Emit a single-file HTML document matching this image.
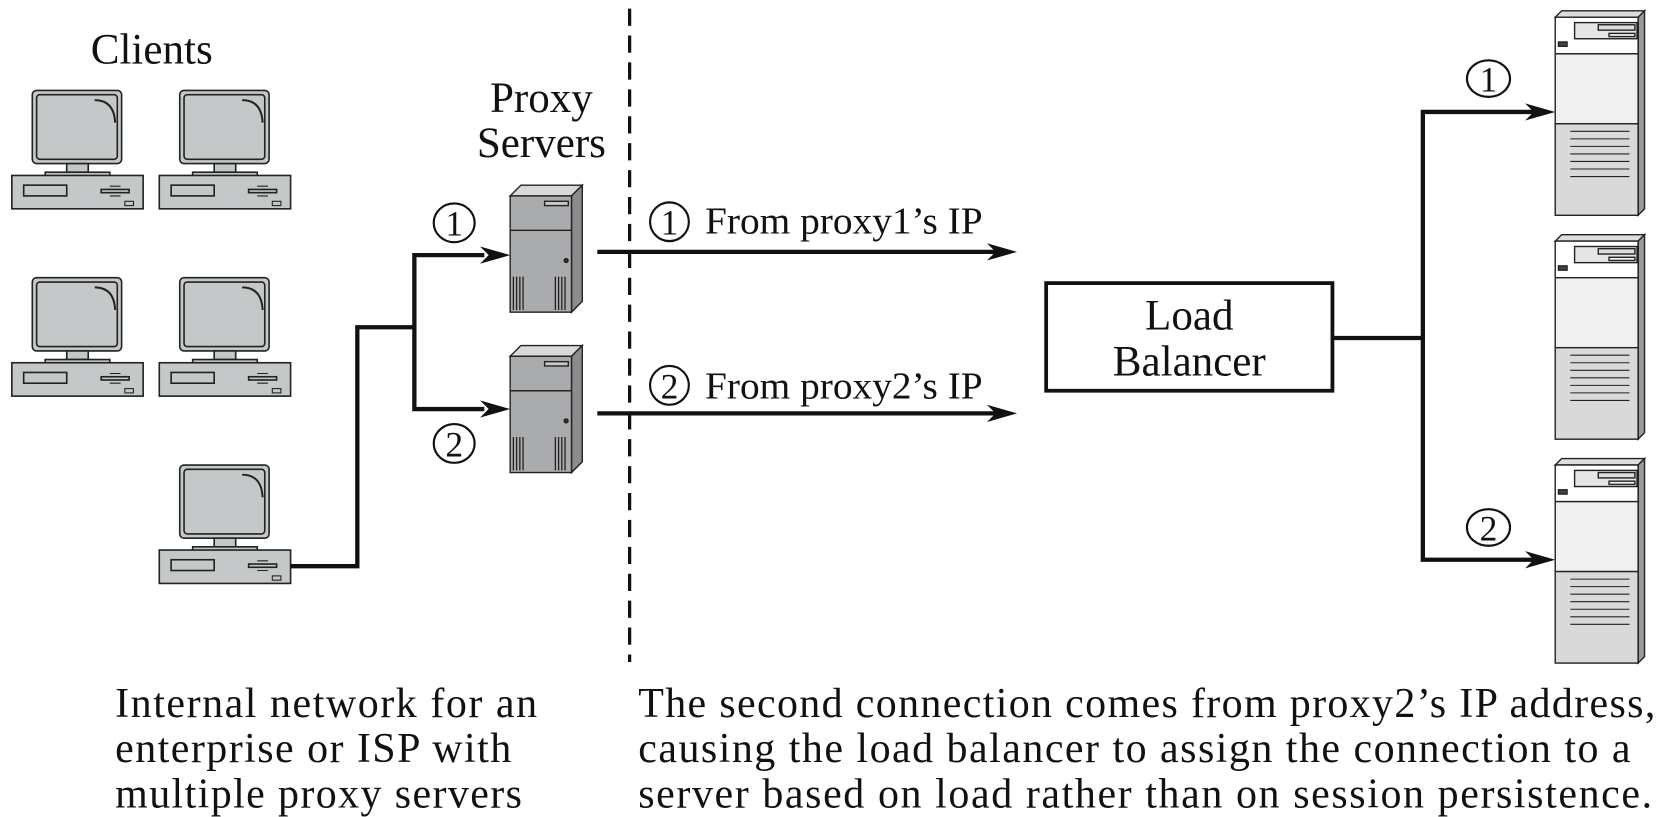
<!DOCTYPE html>
<html><head><meta charset="utf-8"><style>
html,body{margin:0;padding:0;background:#fff;width:1679px;height:817px;overflow:hidden}
svg{display:block}
text{font-family:"Liberation Serif","DejaVu Serif",serif;fill:#111}
</style></head><body>
<svg width="1679" height="817" viewBox="0 0 1560 759" preserveAspectRatio="none" xmlns="http://www.w3.org/2000/svg">
<defs>
<g id="pc" stroke="#222" stroke-width="1.5">
 <rect x="0" y="0" width="83" height="68" rx="4" fill="#c5c8c9"/>
 <rect x="4" y="4" width="75" height="60" rx="3" fill="#c5c8c9"/>
 <path d="M58 9 Q76 9 77 30" fill="none" stroke-width="1.8"/>
 <rect x="32" y="68" width="20" height="8" fill="#c5c8c9"/>
 <rect x="12" y="76" width="60" height="4" fill="#c5c8c9"/>
 <rect x="-19" y="79" width="122" height="31" fill="#c5c8c9"/>
 <rect x="-8" y="88" width="40" height="10" fill="#c5c8c9"/>
 <rect x="64" y="92" width="26" height="3" fill="#c5c8c9"/>
 <path d="M72 89 h10 M72 98 h10" stroke-width="1"/>
 <rect x="86" y="103" width="8" height="4" fill="#c5c8c9" stroke-width="1"/>
</g>
<g id="px" stroke="#222" stroke-width="1.3">
 <polygon points="0,10 10,0 67,0 57,10" fill="#d8d9da"/>
 <polygon points="57,10 67,0 67,108 57,118" fill="#8a8c8e"/>
 <rect x="0" y="10" width="57" height="108" fill="#a9abad"/>
 <line x1="0" y1="42" x2="57" y2="42"/>
 <rect x="32" y="15" width="22" height="4" fill="#c8c8c8"/>
 <circle cx="52" cy="70" r="1.8" fill="#333"/>
 <path d="M3 85v31M6 85v31M9 85v31M12 85v31M42 85v31M45 85v31M48 85v31M51 85v31" stroke-width="1.2"/>
</g>
<g id="bs" stroke="#222" stroke-width="1.3">
 <polygon points="0,6 6,0 83,0 77,6" fill="#ddd"/>
 <polygon points="77,6 83,0 83,184 77,190" fill="#999"/>
 <rect x="0" y="6" width="77" height="34" fill="#fff"/>
 <rect x="0" y="40" width="77" height="65" fill="#f0f0f0"/>
 <rect x="0" y="105" width="77" height="85" fill="#d9d9d9"/>
 <rect x="18" y="11" width="58" height="15" fill="#e5e5e5"/>
 <rect x="40" y="13" width="34" height="5" fill="#ddd"/>
 <rect x="50" y="21" width="24" height="3" fill="#eee"/>
 <rect x="3" y="29" width="8" height="4" fill="#444"/>
 <path d="M14 112h55M14 119h55M14 126h55M14 133h55M14 140h55M14 147h55M14 154h55" stroke-width="1"/>
</g>
</defs>

<text x="141" y="59" font-size="40" text-anchor="middle">Clients</text>
<use href="#pc" x="30" y="84"/>
<use href="#pc" x="167" y="84"/>
<use href="#pc" x="30" y="258"/>
<use href="#pc" x="167" y="258"/>
<use href="#pc" x="167" y="432"/>

<text x="503" y="104" font-size="40" text-anchor="middle">Proxy</text>
<text x="503" y="146" font-size="40" text-anchor="middle">Servers</text>
<use href="#px" x="474" y="172"/>
<use href="#px" x="474" y="321"/>

<g fill="none" stroke="#111" stroke-width="4">
 <polyline points="270,526 332,526 332,304 385,304"/>
 <polyline points="450,237 385,237 385,380 450,380"/>
 <line x1="555" y1="234" x2="925" y2="234"/>
 <line x1="555" y1="384" x2="925" y2="384"/>
 <polyline points="1238,314 1322,314"/>
 <polyline points="1425,104 1322,104 1322,520 1425,520"/>
</g>
<g fill="#111">
 <polygon points="474,237 446,229 454,237 446,245"/>
 <polygon points="474,380 446,372 454,380 446,388"/>
 <polygon points="945,234 917,226 925,234 917,242"/>
 <polygon points="945,384 917,376 925,384 917,392"/>
 <polygon points="1445,104 1417,96 1425,104 1417,112"/>
 <polygon points="1445,520 1417,512 1425,520 1417,528"/>
</g>
<line x1="585" y1="8" x2="585" y2="615" stroke="#111" stroke-width="3" stroke-dasharray="16,9"/>

<g fill="none" stroke="#111" stroke-width="2">
 <ellipse cx="422" cy="207" rx="19" ry="18"/>
 <ellipse cx="422" cy="412" rx="19" ry="18"/>
 <ellipse cx="622" cy="206" rx="18" ry="18"/>
 <ellipse cx="622" cy="358" rx="18" ry="18"/>
 <ellipse cx="1383" cy="73" rx="20" ry="17"/>
 <ellipse cx="1383" cy="490" rx="20" ry="17"/>
</g>
<g font-size="33" text-anchor="middle">
 <text x="422" y="219">1</text><text x="422" y="424">2</text>
 <text x="622" y="218">1</text><text x="622" y="370">2</text>
 <text x="1383" y="85">1</text><text x="1383" y="502">2</text>
</g>
<text x="655" y="217" font-size="35" textLength="258" lengthAdjust="spacingAndGlyphs">From proxy1’s IP</text>
<text x="655" y="370" font-size="35" textLength="258" lengthAdjust="spacingAndGlyphs">From proxy2’s IP</text>

<rect x="972" y="263" width="266" height="100" fill="#fff" stroke="#111" stroke-width="3.5"/>
<text x="1105" y="306" font-size="40" text-anchor="middle">Load</text>
<text x="1105" y="349" font-size="40" text-anchor="middle">Balancer</text>

<use href="#bs" x="1445" y="10"/>
<use href="#bs" x="1445" y="218"/>
<use href="#bs" x="1445" y="426"/>

<g font-size="39" lengthAdjust="spacingAndGlyphs">
 <text x="107" y="666" textLength="392">Internal network for an</text>
 <text x="107" y="708" textLength="368">enterprise or ISP with</text>
 <text x="107" y="750" textLength="378">multiple proxy servers</text>
 <text x="593" y="666" textLength="945">The second connection comes from proxy2’s IP address,</text>
 <text x="593" y="708" textLength="922">causing the load balancer to assign the connection to a</text>
 <text x="593" y="750" textLength="942">server based on load rather than on session persistence.</text>
</g>
</svg>
</body></html>
